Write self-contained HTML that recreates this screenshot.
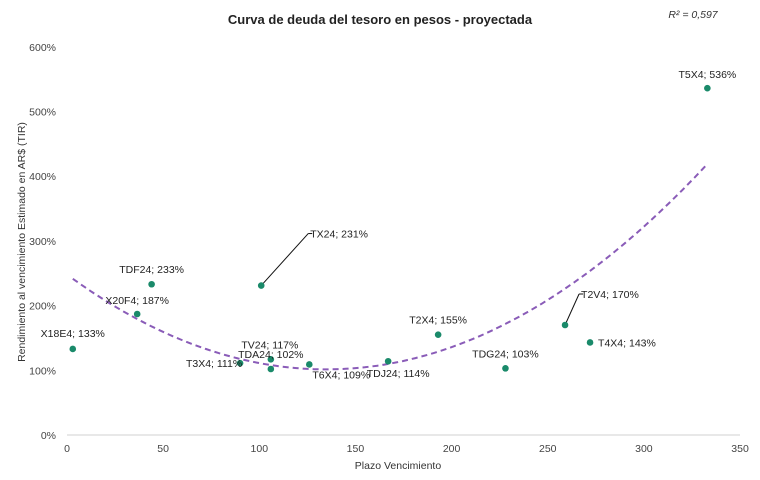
<!DOCTYPE html>
<html><head><meta charset="utf-8"><style>
body{margin:0;background:#fff;font-family:"Liberation Sans",sans-serif}
svg text{font-family:"Liberation Sans",sans-serif}
</style></head><body>
<svg id="c" width="760" height="475">
<text x="380" y="24" text-anchor="middle" font-size="13" font-weight="bold" fill="#222">Curva de deuda del tesoro en pesos - proyectada</text>
<text x="693" y="18" text-anchor="middle" font-size="10.5" font-style="italic" fill="#333">R² = 0,597</text>
<text transform="translate(25,242) rotate(-90)" text-anchor="middle" font-size="10.5" fill="#333">Rendimiento al vencimiento Estimado en AR$ (TIR)</text>
<text x="398" y="469" text-anchor="middle" font-size="10.5" fill="#333">Plazo Vencimiento</text>
<g id="ax"></g><g id="tr"></g><g id="pts"></g>
</svg>
<script>
const names=["X18E4","X20F4","TDF24","TX24","T3X4","TV24","TDA24","T6X4","TDJ24","T2X4","TDG24","T2V4","T4X4","T5X4"];
const days=[3,36.5,44,101,90,106,106,126,167,193,228,259,272,333];
const yields=[133,187,233,231,111,117,102,109,114,155,103,170,143,536];
const xTicks=[0,50,100,150,200,250,300,350];
const yTicks=[0,100,200,300,400,500,600];
const X=v=>67+v*1.923, Y=v=>435-v*0.647;
const NS="http://www.w3.org/2000/svg";
function mk(t,a,p){const e=document.createElementNS(NS,t);for(const k in a)e.setAttribute(k,a[k]);p.appendChild(e);return e;}
const ax=document.getElementById('ax');
const base=mk('line',{x1:67,x2:740,y1:435,y2:435,stroke:'#d0d0d0'},ax);


xTicks.forEach(t=>{const e=mk('text',{x:X(t),y:452,'text-anchor':'middle','font-size':10.5,fill:'#444'},ax);e.textContent=t;

});
yTicks.forEach(t=>{const e=mk('text',{x:56,y:Y(t)+4,'text-anchor':'end','font-size':10.5,fill:'#444'},ax);e.textContent=t+'%';

});
let n=days.length,S=[0,0,0,0,0],T=[0,0,0];
for(let i=0;i<n;i++){let x=days[i],y=yields[i];for(let k=0;k<5;k++)S[k]+=Math.pow(x,k);for(let k=0;k<3;k++)T[k]+=y*Math.pow(x,k);}
const M=[[S[0],S[1],S[2],T[0]],[S[1],S[2],S[3],T[1]],[S[2],S[3],S[4],T[2]]];
for(let i=0;i<3;i++){for(let j=i+1;j<3;j++){const f=M[j][i]/M[i][i];for(let k=i;k<4;k++)M[j][k]-=f*M[i][k];}}
const cf=[0,0,0];for(let i=2;i>=0;i--){let s=M[i][3];for(let k=i+1;k<3;k++)s-=M[i][k]*cf[k];cf[i]=s/M[i][i];}
const xmin=Math.min(...days),xmax=Math.max(...days);let d='';
for(let i=0;i<=100;i++){const x=xmin+(xmax-xmin)*i/100;const y=cf[0]+cf[1]*x+cf[2]*x*x;d+=(i?'L':'M')+X(x).toFixed(1)+' '+Y(y).toFixed(1);}
const tl=mk('path',{d:d,fill:'none',stroke:'#8a5cb8','stroke-width':2,'stroke-dasharray':'6 4'},document.getElementById('tr'));


const off=[[0,-12,'middle',0],[0,-10,'middle',0],[0,-11,'middle',0],[49,-48,'start',1],[-26,4,'middle',0],[-1,-11,'middle',0],[0,-11,'middle',0],[32,14,'middle',0],[10,16,'middle',0],[0,-11,'middle',0],[0,-11,'middle',0],[16,-27,'start',1],[8,4,'start',0],[0,-10,'middle',0]];
const pg=document.getElementById('pts');
names.forEach((nm,i)=>{const cx=X(days[i]),cy=Y(yields[i]);const o=off[i];
if(o[3]){const l=mk('line',{x1:cx,y1:cy,x2:cx+o[0]-2,y2:cy+o[1]-4,stroke:'#111','stroke-width':1},pg);


mk('line',{x1:cx+o[0]-2,y1:cy+o[1]-4,x2:cx+o[0]+2,y2:cy+o[1]-4,stroke:'#111'},pg);}
const c=mk('circle',{cx:cx,cy:cy,r:3.3,fill:'#1a8a6a'},pg);


const t=mk('text',{x:cx+o[0],y:cy+o[1],'text-anchor':o[2],'font-size':10.5,fill:'#222'},pg);
t.textContent=nm+'; '+yields[i]+'%';

});
</script>
</body></html>
